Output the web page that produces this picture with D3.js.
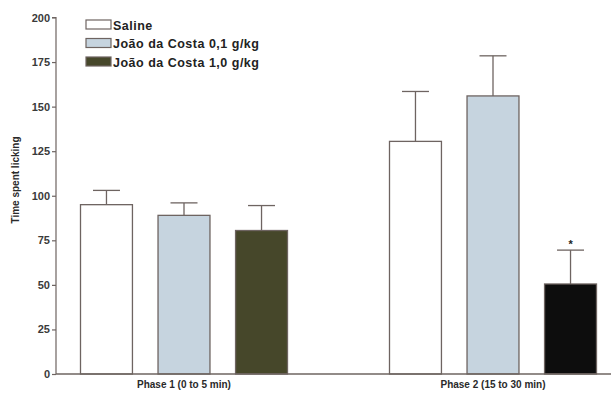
<!DOCTYPE html>
<html>
<head>
<meta charset="utf-8">
<script src="https://cdn.jsdelivr.net/npm/d3@7"></script>
<style>
  html, body { margin: 0; padding: 0; background: #ffffff; overflow: hidden; }
  svg { display: block; font-family: "Liberation Sans", Arial, sans-serif; }
</style>
</head>
<body>
<svg id="chart" width="611" height="393"></svg>
<script>
// Licking time per phase and treatment (mean + SEM)
const phases = ["Phase 1 (0 to 5 min)", "Phase 2 (15 to 30 min)"];
const groups = ["Saline", "João da Costa 0,1 g/kg", "João da Costa 1,0 g/kg"];
const means = [
  [95, 89, 80.5],
  [130.5, 156, 50.5]
];
const errors = [
  [8, 7, 14],
  [28, 22.5, 19]
];
const significance = [
  ["", "", ""],
  ["", "", "*"]
];
const yTicks = [0, 25, 50, 75, 100, 125, 150, 175, 200];
const groupFills = ["#ffffff", "#c6d4df", "#46472a"];
const highlightFill = "#0d0d0d";   // dose bar that differs significantly
const strokeColor = "#6e6461";

const svg = d3.select("#chart");
const axisX = 56, baseY = 374, topY = 17.5, rightX = 611;

const y = d3.scaleLinear().domain([0, 200]).range([baseY, topY]);
const xPhase = d3.scalePoint().domain(phases).range([184, 493]);
const xGroup = d3.scaleBand().domain(groups).range([-103.5, 103.5]).paddingInner(0.33).paddingOuter(0);

// y axis
const yAxis = d3.axisLeft(y).tickValues(yTicks).tickSize(4).tickPadding(2).tickFormat(d3.format("d"));
const gy = svg.append("g").attr("transform", `translate(${axisX},0)`).call(yAxis);
gy.select(".domain").attr("stroke", strokeColor).attr("stroke-width", 1.2).attr("d", `M-4,${topY}H0V${baseY}`);
gy.selectAll(".tick line").attr("stroke", strokeColor).attr("stroke-width", 1.2);
gy.selectAll(".tick text").attr("fill", "#3a3a3a").attr("font-size", 11).attr("font-weight", "bold")
  .attr("font-family", "'Liberation Sans', Arial, sans-serif");

// y label
svg.append("text")
  .attr("transform", `translate(19,${baseY / 2 - 7}) rotate(-90)`)
  .attr("text-anchor", "middle")
  .attr("font-size", 10).attr("font-weight", "bold").attr("fill", "#2a2a2a")
  .text("Time spent licking");

// bars
const rows = [];
phases.forEach((p, i) => groups.forEach((g, j) => rows.push({
  phase: p, group: g, gi: j, mean: means[i][j], err: errors[i][j], sig: significance[i][j],
  fill: significance[i][j] ? highlightFill : groupFills[j]
})));

const barG = svg.append("g");
const bx = d => xPhase(d.phase) + xGroup(d.group);
const cx = d => bx(d) + xGroup.bandwidth() / 2;

// error bars (drawn first so bar outlines sit on top)
barG.selectAll("line.err").data(rows).join("line").attr("class", "err")
  .attr("x1", cx).attr("x2", cx)
  .attr("y1", d => y(d.mean)).attr("y2", d => y(d.mean + d.err))
  .attr("stroke", strokeColor).attr("stroke-width", 1.3);
barG.selectAll("line.cap").data(rows).join("line").attr("class", "cap")
  .attr("x1", d => cx(d) - 13.5).attr("x2", d => cx(d) + 13.5)
  .attr("y1", d => y(d.mean + d.err)).attr("y2", d => y(d.mean + d.err))
  .attr("stroke", strokeColor).attr("stroke-width", 1.3);

barG.selectAll("rect.bar").data(rows).join("rect").attr("class", "bar")
  .attr("x", bx).attr("width", xGroup.bandwidth())
  .attr("y", d => y(d.mean)).attr("height", d => y(0) - y(d.mean))
  .attr("fill", d => d.fill).attr("stroke", strokeColor).attr("stroke-width", 1.3);

barG.selectAll("text.sig").data(rows.filter(d => d.sig)).join("text").attr("class", "sig")
  .attr("x", cx).attr("y", d => y(d.mean + d.err) - 2)
  .attr("text-anchor", "middle").attr("font-size", 11).attr("font-weight", "bold").attr("fill", "#222")
  .text(d => d.sig);

// x axis line
svg.append("line").attr("x1", axisX).attr("x2", rightX).attr("y1", baseY).attr("y2", baseY)
  .attr("stroke", strokeColor).attr("stroke-width", 1.3);

// phase labels
svg.selectAll("text.phase").data(phases).join("text").attr("class", "phase")
  .attr("x", d => xPhase(d)).attr("y", 387.5)
  .attr("text-anchor", "middle").attr("font-size", 10).attr("font-weight", "bold").attr("fill", "#2a2a2a")
  .text(d => d);

// legend
const legend = svg.append("g").attr("transform", "translate(86,20)");
const li = legend.selectAll("g").data(groups).join("g")
  .attr("transform", (d, i) => `translate(0,${i * 18.5})`);
li.append("rect").attr("x", 0).attr("y", 0).attr("width", 25).attr("height", 9)
  .attr("fill", (d, i) => groupFills[i]).attr("stroke", strokeColor).attr("stroke-width", 1.2);
li.append("text").attr("x", 27).attr("y", 9.5)
  .attr("font-size", 12.5).attr("letter-spacing", 0.5).attr("font-weight", "bold").attr("fill", "#222")
  .text(d => d);
</script>
</body>
</html>
